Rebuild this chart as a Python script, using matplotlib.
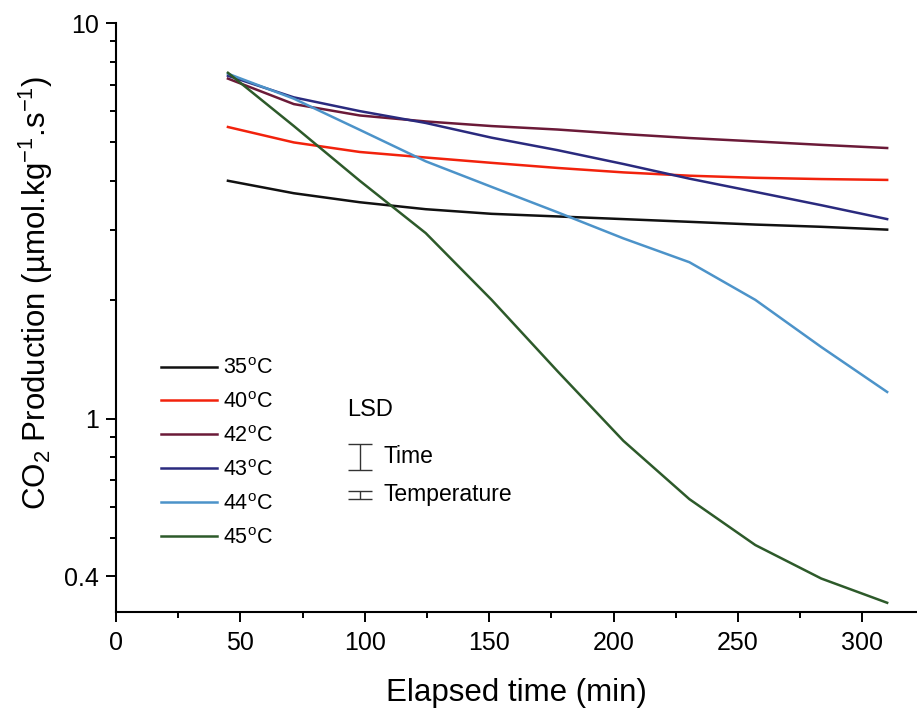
import matplotlib
matplotlib.use("Agg")
import matplotlib.pyplot as plt
import numpy as np
from matplotlib.ticker import FixedLocator, NullFormatter, FixedFormatter

plt.rcParams['font.family'] = ['Liberation Sans', 'DejaVu Sans']
plt.rcParams['mathtext.fontset'] = 'custom'
plt.rcParams['mathtext.rm'] = 'Liberation Sans'
plt.rcParams['mathtext.it'] = 'Liberation Sans:italic'
plt.rcParams['mathtext.bf'] = 'Liberation Sans:bold'

# sampling times (min)
time = [45, 71.5, 98, 124.5, 151, 177.5, 204, 230.5, 257, 283.5, 310]

# CO2 production per temperature
co2_35 = [4.00, 3.72, 3.53, 3.39, 3.30, 3.25, 3.20, 3.15, 3.10, 3.06, 3.01]
co2_40 = [5.47, 5.00, 4.73, 4.58, 4.44, 4.31, 4.20, 4.12, 4.07, 4.04, 4.02]
co2_42 = [7.25, 6.25, 5.85, 5.65, 5.50, 5.39, 5.25, 5.13, 5.03, 4.93, 4.84]
co2_43 = [7.37, 6.50, 6.00, 5.60, 5.14, 4.78, 4.41, 4.05, 3.75, 3.47, 3.20]
co2_44 = [7.46, 6.45, 5.38, 4.48, 3.86, 3.33, 2.86, 2.49, 2.00, 1.52, 1.17]
co2_45 = [7.50, 5.50, 4.00, 2.95, 2.00, 1.32, 0.88, 0.627, 0.48, 0.395, 0.343]

labels = ['35$^{\\mathrm{o}}$C', '40$^{\\mathrm{o}}$C', '42$^{\\mathrm{o}}$C',
          '43$^{\\mathrm{o}}$C', '44$^{\\mathrm{o}}$C', '45$^{\\mathrm{o}}$C']
colors = ['#111111', '#f2220c', '#6b1a38', '#2a2a7e', '#4c93c9', '#2d5a2a']
series = [co2_35, co2_40, co2_42, co2_43, co2_44, co2_45]

# LSD bars (x position, lower, upper)
lsd_x = 98
lsd_time = [0.743, 0.865]
lsd_temp = [0.627, 0.659]

fig = plt.figure(figsize=(9.17, 7.12), dpi=100)
ax = fig.add_axes([0.1265, 0.1404, 0.8735, 0.8268])

for y, c, lab in zip(series, colors, labels):
    ax.plot(time, y, color=c, lw=1.8, label=lab)

ax.set_yscale('log')
ax.set_xlim(0, 322)
ax.set_ylim(0.325, 10)

ax.spines['top'].set_visible(False)
ax.spines['right'].set_visible(False)
ax.spines['left'].set_linewidth(1.5)
ax.spines['bottom'].set_linewidth(1.5)

ax.xaxis.set_major_locator(FixedLocator([0, 50, 100, 150, 200, 250, 300]))
ax.xaxis.set_minor_locator(FixedLocator([25, 75, 125, 175, 225, 275]))
ax.yaxis.set_major_locator(FixedLocator([0.4, 1, 10]))
ax.yaxis.set_major_formatter(FixedFormatter(['0.4', '1', '10']))
ax.yaxis.set_minor_locator(FixedLocator([0.5, 0.6, 0.7, 0.8, 0.9, 2, 3, 4, 5, 6, 7, 8, 9]))
ax.yaxis.set_minor_formatter(NullFormatter())

ax.tick_params(which='major', direction='out', length=7, width=1.4)
ax.tick_params(which='minor', direction='out', length=4, width=1.4)
ax.tick_params(axis='y', labelsize=18, pad=5)
ax.tick_params(axis='x', labelsize=18, pad=7)

ax.set_xlabel('Elapsed time (min)', fontsize=22.5, labelpad=16)
ax.set_ylabel('CO$_2$ Production (µmol.kg$^{-1}$.s$^{-1}$)', fontsize=22.5)
ax.yaxis.set_label_coords(-0.076, 0.543)

leg = ax.legend(loc='upper left', bbox_to_anchor=(0.045, 0.446), frameon=False,
                fontsize=15.5, handlelength=2.6, handletextpad=0.3, labelspacing=0.6,
                borderaxespad=0)

# LSD markers
ax.errorbar([lsd_x], [np.sqrt(lsd_time[0] * lsd_time[1])],
            yerr=[[np.sqrt(lsd_time[0] * lsd_time[1]) - lsd_time[0]],
                  [lsd_time[1] - np.sqrt(lsd_time[0] * lsd_time[1])]],
            fmt='none', ecolor='#333333', elinewidth=1.0, capsize=8.5, capthick=1.0)
ax.errorbar([lsd_x], [np.sqrt(lsd_temp[0] * lsd_temp[1])],
            yerr=[[np.sqrt(lsd_temp[0] * lsd_temp[1]) - lsd_temp[0]],
                  [lsd_temp[1] - np.sqrt(lsd_temp[0] * lsd_temp[1])]],
            fmt='none', ecolor='#333333', elinewidth=1.0, capsize=8.5, capthick=1.0)
ax.text(93, np.sqrt(lsd_time[1]) * 1.13, 'LSD', fontsize=17, va='center', ha='left')
ax.text(107.5, np.sqrt(lsd_time[0] * lsd_time[1]), 'Time', fontsize=16.5, va='center', ha='left')
ax.text(107.5, np.sqrt(lsd_temp[0] * lsd_temp[1]), 'Temperature', fontsize=16.5, va='center', ha='left')

fig.savefig('out.png', dpi=100)
